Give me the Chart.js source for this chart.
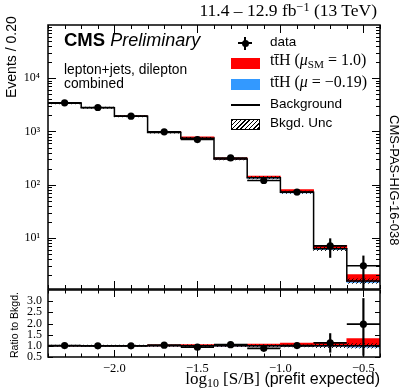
<!DOCTYPE html>
<html><head><meta charset="utf-8">
<script src="https://cdn.jsdelivr.net/npm/chart.js@4"></script>
<style>
html,body{margin:0;padding:0;background:#fff;}
#wrap{position:relative;width:405px;height:389px;overflow:hidden;background:#fff;}
canvas{position:absolute;left:0;top:0;}
.t{position:absolute;white-space:nowrap;line-height:1;color:#000;margin:0;}
.sans{font-family:"Liberation Sans",Arial,sans-serif;}
.serif{font-family:"Liberation Serif","Times New Roman",serif;}
.sup{font-size:0.7em;vertical-align:0.45em;line-height:0;}
.sub{font-size:0.7em;vertical-align:-0.25em;line-height:0;}
.box{position:absolute;}
</style></head>
<body><div id="wrap">
<canvas id="main" width="405" height="389"></canvas>
<canvas id="ratio" width="405" height="389"></canvas>

<div class="t serif" style="right:28px;top:2px;font-size:17.5px;">11.4 – 12.9 fb<span class="sup">−1</span> (13 TeV)</div>
<div class="t sans" style="left:64px;top:31px;font-size:18.5px;"><b>CMS</b> <i style="font-size:18px">Preliminary</i></div>
<div class="t sans" style="left:64px;top:63.3px;font-size:13.8px;">lepton+jets, dilepton</div>
<div class="t sans" style="left:64px;top:76.6px;font-size:13.8px;">combined</div>

<!-- legend symbols -->
<div class="box" style="left:238px;top:42px;width:14px;height:1.5px;background:#000"></div>
<div class="box" style="left:244.3px;top:36.5px;width:1.5px;height:13px;background:#000"></div>
<div class="box" style="left:241.5px;top:39.5px;width:7px;height:7px;border-radius:50%;background:#000"></div>
<div class="box" style="left:231px;top:58.3px;width:29px;height:11px;background:#ff0000"></div>
<div class="box" style="left:231px;top:79.3px;width:29px;height:11px;background:#3399ff"></div>
<div class="box" style="left:231px;top:104.3px;width:29px;height:1.5px;background:#000"></div>
<div class="box" style="left:231px;top:119.3px;width:27px;height:9px;border:1px solid #000;background:repeating-linear-gradient(135deg,#000 0 1px,#fff 1px 3px)"></div>

<div class="t sans" style="left:270px;top:35.3px;font-size:13.5px;">data</div>
<div class="t serif" style="left:270px;top:51.6px;font-size:16px;">tt̄H (<i>μ</i><span class="sub">SM</span> = 1.0)</div>
<div class="t serif" style="left:270px;top:73.9px;font-size:16px;">tt̄H (<i>μ</i> = −0.19)</div>
<div class="t sans" style="left:270px;top:96.9px;font-size:13.5px;">Background</div>
<div class="t sans" style="left:270px;top:115.8px;font-size:13.5px;">Bkgd. Unc</div>

<div class="t sans" style="left:4.4px;top:98px;font-size:14px;transform-origin:0 0;transform:rotate(-90deg);">Events / 0.20</div>
<div class="t sans" style="left:8.6px;top:357.5px;font-size:10.5px;transform-origin:0 0;transform:rotate(-90deg);">Ratio to Bkgd.</div>
<div class="t sans" style="left:401px;top:115px;font-size:13px;transform-origin:0 0;transform:rotate(90deg);">CMS-PAS-HIG-16-038</div>

<div class="t sans" style="right:25px;top:370px;font-size:16px;"><span class="serif" style="font-size:17px">log<span class="sub">10</span> [S/B]</span> (prefit expected)</div>
</div>

<script>
// ---------------- data ----------------
const binCenters = [-2.3, -2.1, -1.9, -1.7, -1.5, -1.3, -1.1, -0.9, -0.7, -0.5];
const binEdges   = [-2.4, -2.2, -2.0, -1.8, -1.6, -1.4, -1.2, -1.0, -0.8, -0.6, -0.4];
const binWidth = 0.2;

const dataEvents  = [3450, 2820, 1940, 985, 705, 318, 120, 73, 7.1, 3.0];
const dataErrLow  = [59, 53, 44, 31, 27, 18, 11, 8.5, 2.8, 1.9];
const dataErrHigh = [59, 53, 44, 31, 27, 18, 11, 8.5, 2.6, 1.6];
const bkgEvents   = [3400, 2800, 1930, 960, 750, 303, 135, 72, 6.3, 1.55];
const tthSM       = [34, 42, 48, 45, 42, 16, 11, 9, 0.95, 0.5];
const muFit = -0.19;
const bkgUncFrac  = [0.03, 0.03, 0.03, 0.03, 0.04, 0.04, 0.05, 0.05, 0.08, 0.10];

const ratioData    = [1.01, 1.00, 1.00, 1.03, 0.94, 1.05, 0.89, 1.01, 1.13, 1.97];
const ratioErrLow  = [0.02, 0.02, 0.02, 0.03, 0.04, 0.06, 0.08, 0.12, 0.42, 1.40];
const ratioErrHigh = [0.02, 0.02, 0.02, 0.03, 0.04, 0.06, 0.08, 0.12, 0.42, 1.15];
const ratioSigSM   = [0.01, 0.015, 0.025, 0.047, 0.056, 0.052, 0.08, 0.12, 0.15, 0.33];
const ratioBkgUnc  = [0.03, 0.03, 0.03, 0.03, 0.04, 0.04, 0.05, 0.05, 0.08, 0.10];

const xTickLabels = [-2.0, -1.5, -1.0, -0.5];
const yTickMain   = [10, 100, 1000, 10000];
const yTickRatio  = [0.5, 1.0, 1.5, 2.0, 2.5, 3.0];

// ---------------- helpers ----------------
const SERIF = '"Liberation Serif", "Times New Roman", serif';
const RED = '#ff0000', BLUE = '#3399ff';
const SUP = {10: '10¹', 100: '10²', 1000: '10³', 10000: '10⁴'};

function hatchPattern() {
  const c = document.createElement('canvas'); c.width = 4; c.height = 4;
  const g = c.getContext('2d');
  g.strokeStyle = '#000'; g.lineWidth = 0.9;
  g.beginPath();
  g.moveTo(0, 4); g.lineTo(4, 0);
  g.moveTo(-1, 1); g.lineTo(1, -1);
  g.moveTo(3, 5); g.lineTo(5, 3);
  g.stroke();
  return g.createPattern(c, 'repeat');
}
const HATCH = hatchPattern();

const xMinor = []; for (let i = 0; i <= 20; i++) xMinor.push(-2.4 + i * 0.1);
const yMinorMain = []; for (const d of [1, 10, 100, 1000, 10000]) for (let k = 2; k <= 9; k++) yMinorMain.push(k * d);

const frameTicks = {
  id: 'frameTicks',
  afterDatasetsDraw(chart, args, o) {
    const {ctx, chartArea: a, scales} = chart;
    const xs = scales.x, ys = scales.y;
    ctx.save();
    ctx.strokeStyle = '#000';
    ctx.lineWidth = 1;
    ctx.beginPath();
    const near = (v, arr) => arr.some(m => Math.abs(m - v) < 1e-6 * Math.max(1, Math.abs(m)));
    for (const v of xMinor) {
      const px = Math.round(xs.getPixelForValue(v)) + 0.5;
      const len = near(v, xTickLabels) ? o.xMajorLen : o.xMinorLen;
      ctx.moveTo(px, a.bottom); ctx.lineTo(px, a.bottom - len);
      ctx.moveTo(px, a.top); ctx.lineTo(px, a.top + len);
    }
    for (const v of o.yMinor) {
      if (v < ys.min || v > ys.max) continue;
      const py = Math.round(ys.getPixelForValue(v)) + 0.5;
      ctx.moveTo(a.left, py); ctx.lineTo(a.left + o.yMinorLen, py);
      ctx.moveTo(a.right, py); ctx.lineTo(a.right - o.yMinorLen, py);
    }
    for (const v of o.yMajor) {
      const py = Math.round(ys.getPixelForValue(v)) + 0.5;
      ctx.moveTo(a.left, py); ctx.lineTo(a.left + o.yMajorLen, py);
      ctx.moveTo(a.right, py); ctx.lineTo(a.right - o.yMajorLen, py);
    }
    ctx.stroke();
    ctx.lineWidth = 1.5;
    ctx.strokeRect(a.left, a.top, a.right - a.left, a.bottom - a.top);
    ctx.restore();
  }
};

const halfBinPx = (ctx) => {
  const s = ctx.chart.scales.x;
  return Math.abs(s.getPixelForValue(binWidth) - s.getPixelForValue(0)) / 2;
};
const barCommon = {type: 'bar', grouped: false, barPercentage: 1, categoryPercentage: 1, borderWidth: 0};
const xScale = {
  type: 'linear', min: -2.4, max: -0.4, offset: false,
  afterBuildTicks: s => { s.ticks = xTickLabels.map(v => ({value: v})); }
};

// ---------------- main panel ----------------
new Chart(document.getElementById('main'), {
  data: {
    datasets: [
      Object.assign({}, barCommon, {label: 'ttH (mu = -0.19)', order: 6, backgroundColor: BLUE,
        data: binCenters.map((c, i) => ({x: c, y: [bkgEvents[i] + muFit * tthSM[i], bkgEvents[i]]}))}),
      Object.assign({}, barCommon, {label: 'ttH (mu_SM = 1.0)', order: 5, backgroundColor: RED,
        data: binCenters.map((c, i) => ({x: c, y: [bkgEvents[i], bkgEvents[i] + tthSM[i]]}))}),
      Object.assign({}, barCommon, {label: 'Bkgd. Unc', order: 4, backgroundColor: HATCH,
        data: binCenters.map((c, i) => ({x: c, y: [bkgEvents[i] * (1 - bkgUncFrac[i]), bkgEvents[i] * (1 + bkgUncFrac[i])]}))}),
      {type: 'line', label: 'Background', order: 3, stepped: 'before', borderColor: '#000', borderWidth: 1.5,
        pointRadius: 0, fill: false,
        data: binEdges.map((e, i) => ({x: e, y: bkgEvents[Math.min(i, bkgEvents.length - 1)]}))},
      {type: 'bar', label: 'data err', order: 2, grouped: false, barThickness: 1.5, backgroundColor: '#000',
        data: binCenters.map((c, i) => ({x: c, y: [dataEvents[i] - dataErrLow[i], dataEvents[i] + dataErrHigh[i]]}))},
      {type: 'line', label: 'data xerr', order: 1, showLine: false, pointStyle: 'line', pointRadius: halfBinPx,
        pointBorderWidth: 1.6, pointBorderColor: '#000', pointHoverRadius: halfBinPx,
        data: binCenters.map((c, i) => ({x: c, y: dataEvents[i]}))},
      {type: 'line', label: 'data', order: 0, showLine: false, pointStyle: 'circle', pointRadius: 3.6,
        pointBackgroundColor: '#000', pointBorderWidth: 0,
        data: binCenters.map((c, i) => ({x: c, y: dataEvents[i]}))}
    ]
  },
  options: {
    responsive: false, animation: false, devicePixelRatio: 1,
    layout: {padding: {left: 0, top: 25, right: 25, bottom: 100}},
    plugins: {legend: {display: false}, tooltip: {enabled: false},
      frameTicks: {xMajorLen: 8, xMinorLen: 4, yMajorLen: 8, yMinorLen: 4, yMajor: yTickMain, yMinor: yMinorMain}},
    scales: {
      x: Object.assign({}, xScale, {display: false}),
      y: {
        type: 'logarithmic', min: 1.1, max: 100000,
        afterFit: s => { s.width = 48; },
        afterBuildTicks: s => { s.ticks = yTickMain.map(v => ({value: v})); },
        ticks: {callback: v => SUP[v] || '', font: {family: SERIF, size: 12}, color: '#000', padding: 8, autoSkip: false},
        grid: {display: false, drawTicks: false}, border: {display: false}
      }
    }
  },
  plugins: [frameTicks]
});

// ---------------- ratio panel ----------------
new Chart(document.getElementById('ratio'), {
  data: {
    datasets: [
      Object.assign({}, barCommon, {label: 'ttH (mu = -0.19)', order: 6, backgroundColor: BLUE,
        data: binCenters.map((c, i) => ({x: c, y: [1 + muFit * ratioSigSM[i], 1]}))}),
      Object.assign({}, barCommon, {label: 'ttH (mu_SM = 1.0)', order: 5, backgroundColor: RED,
        data: binCenters.map((c, i) => ({x: c, y: [1, 1 + ratioSigSM[i]]}))}),
      Object.assign({}, barCommon, {label: 'Bkgd. Unc', order: 4, backgroundColor: HATCH,
        data: binCenters.map((c, i) => ({x: c, y: [1 - ratioBkgUnc[i], 1 + ratioBkgUnc[i]]}))}),
      {type: 'line', label: 'Background', order: 3, stepped: 'before', borderColor: '#000', borderWidth: 1.5,
        pointRadius: 0, fill: false,
        data: binEdges.map(e => ({x: e, y: 1}))},
      {type: 'bar', label: 'data err', order: 2, grouped: false, barThickness: 1.5, backgroundColor: '#000',
        data: binCenters.map((c, i) => ({x: c, y: [ratioData[i] - ratioErrLow[i], ratioData[i] + ratioErrHigh[i]]}))},
      {type: 'line', label: 'data xerr', order: 1, showLine: false, pointStyle: 'line', pointRadius: halfBinPx,
        pointBorderWidth: 1.8, pointBorderColor: '#000', pointHoverRadius: halfBinPx,
        data: binCenters.map((c, i) => ({x: c, y: ratioData[i]}))},
      {type: 'line', label: 'data', order: 0, showLine: false, pointStyle: 'circle', pointRadius: 3.6,
        pointBackgroundColor: '#000', pointBorderWidth: 0,
        data: binCenters.map((c, i) => ({x: c, y: ratioData[i]}))}
    ]
  },
  options: {
    responsive: false, animation: false, devicePixelRatio: 1,
    layout: {padding: {left: 0, top: 290, right: 25, bottom: 0}},
    plugins: {legend: {display: false}, tooltip: {enabled: false},
      frameTicks: {xMajorLen: 7, xMinorLen: 3.5, yMajorLen: 5, yMinorLen: 5, yMajor: yTickRatio, yMinor: []}},
    scales: {
      x: Object.assign({}, xScale, {
        afterFit: s => { s.height = 32; },
        ticks: {callback: v => (v < 0 ? '−' : '') + Math.abs(v).toFixed(1), font: {family: SERIF, size: 12.5}, color: '#000', padding: 4, maxRotation: 0, autoSkip: false},
        grid: {display: false, drawTicks: false}, border: {display: false}
      }),
      y: {
        type: 'linear', min: 0.5, max: 3.5,
        afterFit: s => { s.width = 48; },
        afterBuildTicks: s => { s.ticks = yTickRatio.map(v => ({value: v})); },
        ticks: {callback: v => v.toFixed(1), font: {family: SERIF, size: 12}, color: '#000', padding: 6, autoSkip: false},
        grid: {display: false, drawTicks: false}, border: {display: false}
      }
    }
  },
  plugins: [frameTicks]
});
</script>
</body></html>
